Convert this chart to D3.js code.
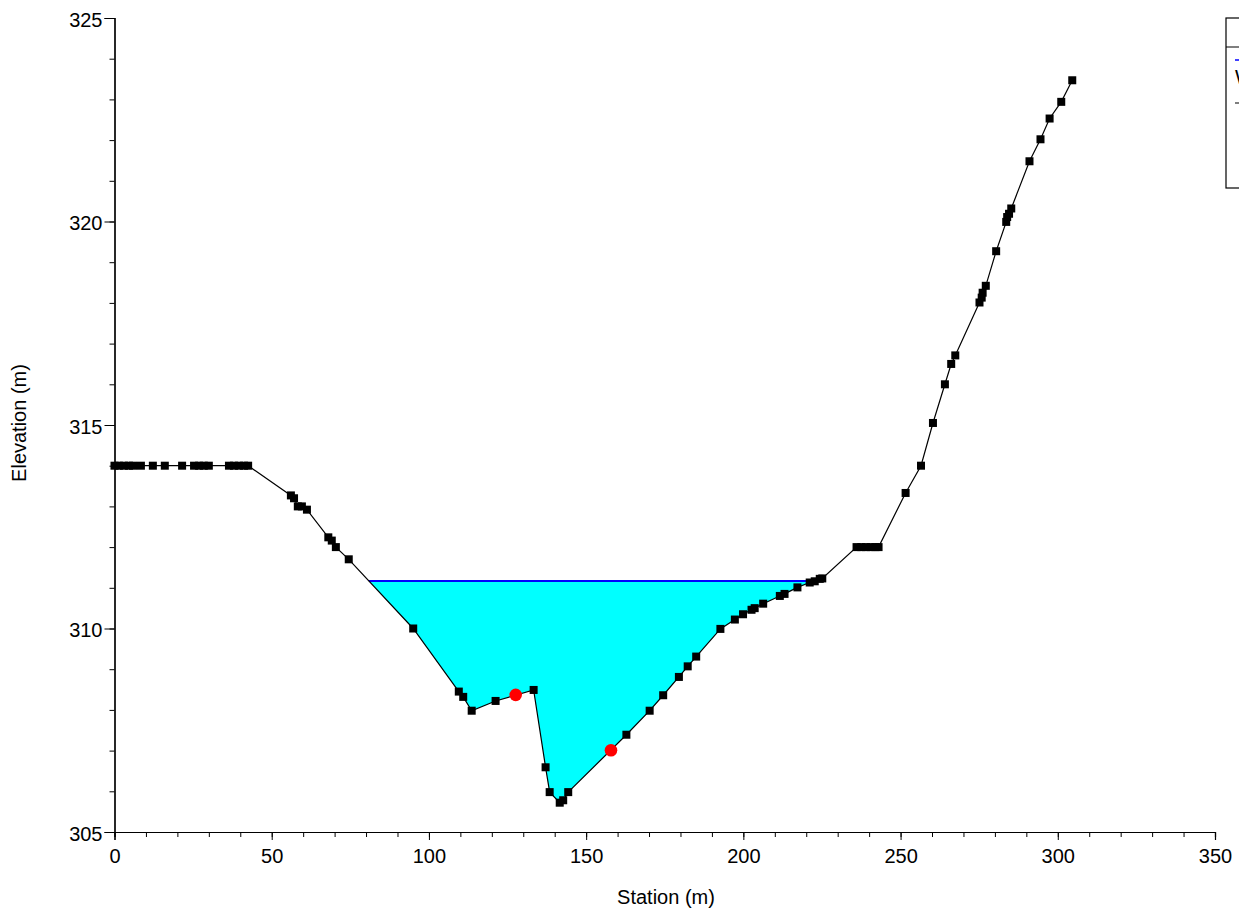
<!DOCTYPE html>
<html>
<head>
<meta charset="utf-8">
<script src="https://cdn.jsdelivr.net/npm/d3@7"></script>
<style>
  html, body { margin: 0; padding: 0; background: #fff; }
  svg { display: block; }
  text { font-family: "Liberation Sans", Arial, sans-serif; }
</style>
</head>
<body>
<svg id="chart" width="1239" height="913"></svg>
<script>
// ---- data ----
const groundStation = [0, 1.4, 3, 4.6, 5.9, 8.4, 12.2, 16, 21.5, 25.3, 26.9, 28.4, 30, 36.4, 38, 39.6, 41.2, 42.5,
  56.1, 57.1, 58.3, 59.6, 61.2,
  68.0, 69.1, 70.4, 74.5,
  95.0, 109.5, 110.9, 113.6, 121.2, 133.3, 137.1, 138.4, 141.6, 142.7, 144.3,
  162.8, 170.2, 174.5, 179.5, 182.3, 185.0, 192.7, 197.3, 199.9, 202.6, 203.6, 206.3, 211.6, 213.1, 217.2, 221.1, 222.7, 224.3, 225.1,
  236.0, 237.5, 239.0, 240.5, 242.0, 243.0,
  251.6, 256.5, 260.3, 264.1, 266.1, 267.4,
  275.1, 275.8, 276.1, 277.1, 280.4, 283.6, 283.9, 284.5, 285.2, 291.0, 294.5, 297.4, 301.1, 304.6];
const groundElevation = [314.0, 314.0, 314.0, 314.0, 314.0, 314.0, 314.0, 314.0, 314.0, 314.0, 314.0, 314.0, 314.0, 314.0, 314.0, 314.0, 314.0, 314.0,
  313.27, 313.2, 313.0, 313.0, 312.92,
  312.24, 312.16, 312.0, 311.7,
  310.0, 308.45, 308.32, 307.98, 308.22, 308.49, 306.59, 305.98, 305.72, 305.78, 305.98,
  307.39, 307.98, 308.36, 308.81, 309.07, 309.31, 309.99, 310.22, 310.35, 310.46, 310.50, 310.61, 310.80, 310.85, 311.01, 311.13, 311.16, 311.22, 311.23,
  312.0, 312.0, 312.0, 312.0, 312.0, 312.0,
  313.33, 314.0, 315.05, 316.0, 316.5, 316.71,
  318.01, 318.13, 318.25, 318.42, 319.27, 319.99, 320.11, 320.19, 320.32, 321.48, 322.02, 322.53, 322.94, 323.47];
const bankStation = [127.6, 157.9];
const bankElevation = [308.37, 307.01];
const wsElevation = 311.17;
const xMajorTicks = [0, 50, 100, 150, 200, 250, 300, 350];
const yMajorTicks = [305, 310, 315, 320, 325];
const xTitle = "Station (m)";
const yTitle = "Elevation (m)";
const legendItems = ["WS PF 1", "Ground", "Bank Sta"];

// ---- scales ----
const svg = d3.select("#chart");
const x = d3.scaleLinear().domain([0, 350]).range([114.5, 1215]);
const y = d3.scaleLinear().domain([305, 325]).range([832, 18]);

const ground = groundStation.map((s, i) => ({ s, e: groundElevation[i] }));

// water polygon: find left/right crossings of WS with ground
function crossings() {
  let left = null, right = null;
  for (let i = 0; i < ground.length - 1; i++) {
    const a = ground[i], b = ground[i + 1];
    if (a.e > wsElevation && b.e <= wsElevation && left === null) {
      const t = (a.e - wsElevation) / (a.e - b.e);
      left = { i: i + 1, s: a.s + t * (b.s - a.s) };
    }
    if (a.e <= wsElevation && b.e > wsElevation && left !== null && right === null) {
      const t = (wsElevation - a.e) / (b.e - a.e);
      right = { i: i, s: a.s + t * (b.s - a.s) };
    }
  }
  return { left, right };
}
const cr = crossings();
const wetPts = [{ s: cr.left.s, e: wsElevation }]
  .concat(ground.slice(cr.left.i, cr.right.i + 1))
  .concat([{ s: cr.right.s, e: wsElevation }]);

const area = d3.area().x(d => x(d.s)).y0(y(wsElevation)).y1(d => y(d.e));
svg.append("path").datum(wetPts).attr("d", area).attr("fill", "#00ffff").attr("stroke", "none");

svg.append("line")
  .attr("x1", x(cr.left.s)).attr("x2", x(cr.right.s))
  .attr("y1", y(wsElevation)).attr("y2", y(wsElevation))
  .attr("stroke", "#0000ff").attr("stroke-width", 2);

// ground line
const line = d3.line().x(d => x(d.s)).y(d => y(d.e));
svg.append("path").datum(ground).attr("d", line)
  .attr("fill", "none").attr("stroke", "#000").attr("stroke-width", 1.2);

// markers
svg.append("g").selectAll("rect").data(ground).join("rect")
  .attr("x", d => x(d.s) - 4).attr("y", d => y(d.e) - 4)
  .attr("width", 8).attr("height", 8).attr("fill", "#000");

svg.append("g").selectAll("circle").data(bankStation).join("circle")
  .attr("cx", d => x(d)).attr("cy", (d, i) => y(bankElevation[i]))
  .attr("r", 6.3).attr("fill", "#ff0000");

// ---- axes ----
const xMinor = d3.axisBottom(x).tickValues(d3.range(0, 351, 10)).tickSize(5).tickFormat("");
const xMajor = d3.axisBottom(x).tickValues(xMajorTicks).tickSize(8).tickPadding(9).tickFormat(d3.format("d"));
const yMinor = d3.axisLeft(y).tickValues(d3.range(305, 326, 1)).tickSize(5).tickFormat("");
const yMajor = d3.axisLeft(y).tickValues(yMajorTicks).tickSize(10).tickPadding(2).tickFormat(d3.format("d"));

function styleAxis(g) {
  g.select(".domain").attr("stroke", "#000").attr("stroke-width", 1.2);
  g.selectAll(".tick line").attr("stroke", "#000");
  g.selectAll("text").attr("font-size", 20).attr("fill", "#000")
    .attr("font-family", "'Liberation Sans', Arial, sans-serif");
}
svg.append("g").attr("transform", `translate(0,${y(305)})`).call(xMinor).call(styleAxis);
svg.append("g").attr("transform", `translate(0,${y(305)})`).call(xMajor).call(styleAxis);
svg.append("g").attr("transform", `translate(${x(0)},0)`).call(yMinor).call(styleAxis);
const yg = svg.append("g").attr("transform", `translate(${x(0)},0)`).call(yMajor).call(styleAxis);
yg.selectAll("text").attr("dy", "0.42em");

svg.append("text").attr("x", 666).attr("y", 904).attr("text-anchor", "middle")
  .attr("font-size", 20).text(xTitle);
svg.append("text").attr("transform", "translate(25.5,423) rotate(-90)").attr("text-anchor", "middle")
  .attr("font-size", 20).text(yTitle);

// ---- legend (clipped at right edge, as in the reference) ----
const lg = svg.append("g");
lg.append("rect").attr("x", 1226).attr("y", 18).attr("width", 200).attr("height", 170)
  .attr("fill", "#fff").attr("stroke", "#000").attr("stroke-width", 1.2);
lg.append("line").attr("x1", 1226).attr("x2", 1426).attr("y1", 47).attr("y2", 47)
  .attr("stroke", "#000").attr("stroke-width", 1.2);
lg.append("text").attr("x", 1262).attr("y", 40).attr("font-size", 20).text("Legend");
lg.append("line").attr("x1", 1235).attr("x2", 1275).attr("y1", 60).attr("y2", 60)
  .attr("stroke", "#0000ff").attr("stroke-width", 1.5);
lg.append("text").attr("x", 1235).attr("y", 84).attr("font-size", 20).text(legendItems[0]);
lg.append("line").attr("x1", 1235).attr("x2", 1275).attr("y1", 103).attr("y2", 103)
  .attr("stroke", "#000").attr("stroke-width", 1.2);
lg.append("rect").attr("x", 1251).attr("y", 99).attr("width", 8).attr("height", 8).attr("fill", "#000");
lg.append("text").attr("x", 1282).attr("y", 110).attr("font-size", 20).text(legendItems[1]);
lg.append("circle").attr("cx", 1258).attr("cy", 140).attr("r", 6).attr("fill", "#ff0000");
lg.append("text").attr("x", 1282).attr("y", 147).attr("font-size", 20).text(legendItems[2]);
</script>
</body>
</html>
